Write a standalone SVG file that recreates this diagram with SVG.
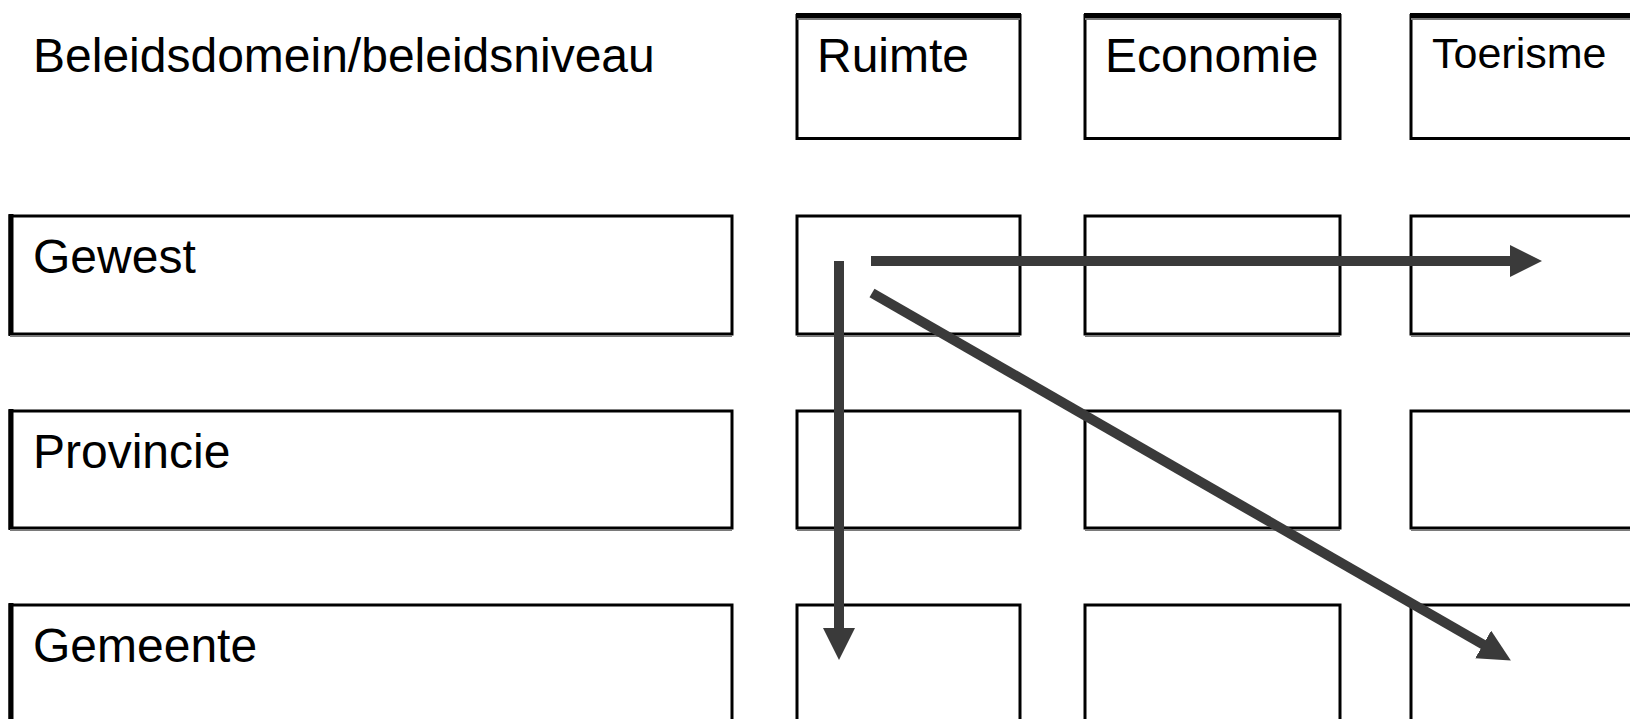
<svg xmlns="http://www.w3.org/2000/svg" width="1630" height="719" viewBox="0 0 1630 719">
<style>
.box{fill:#fff;stroke:#000;stroke-width:3}
.shade{fill:none;stroke:#7a7a7a;stroke-width:2}
.topedge{stroke:#000;stroke-width:5}
.lbl{font-family:"Liberation Sans",Arial,sans-serif;font-size:48px;fill:#000}
.conn{stroke:#3a3a3a;stroke-width:10;fill:none}
</style>
<defs>
<marker id="ah" viewBox="0 0 32 32" refX="1" refY="16" markerWidth="32" markerHeight="32" markerUnits="userSpaceOnUse" orient="auto">
<path d="M0,0 L32,16 L0,32 z" fill="#3a3a3a"/>
</marker>
</defs>
<rect width="1630" height="719" fill="#fff"/>

<g id="header-title"><text class="lbl" x="33" y="72">Beleidsdomein/beleidsniveau</text></g>

<g id="col-ruimte"><rect class="box" x="797" y="15.5" width="223" height="123"/><line class="topedge" x1="796" y1="15.5" x2="1021" y2="15.5"/><line class="shade" x1="797" y1="19" x2="1020" y2="19"/><text class="lbl" x="817" y="72">Ruimte</text></g>
<g id="col-economie"><rect class="box" x="1085" y="15.5" width="255" height="123"/><line class="topedge" x1="1084" y1="15.5" x2="1341" y2="15.5"/><line class="shade" x1="1085" y1="19" x2="1340" y2="19"/><text class="lbl" x="1105" y="72">Economie</text></g>
<g id="col-toerisme"><rect class="box" x="1411" y="15.5" width="300" height="123"/><line class="topedge" x1="1410" y1="15.5" x2="1711" y2="15.5"/><line class="shade" x1="1411" y1="19" x2="1711" y2="19"/><text class="lbl" x="1432" y="68" style="font-size:43px">Toerisme</text></g>

<g id="row-gewest"><rect class="box" x="10" y="216" width="722" height="118"/><line x1="11" y1="214" x2="11" y2="336" stroke="#000" stroke-width="5"/><line class="shade" x1="10" y1="336" x2="732" y2="336"/><text class="lbl" x="33" y="273">Gewest</text></g>
<g id="row-provincie"><rect class="box" x="10" y="411" width="722" height="117"/><line x1="11" y1="409" x2="11" y2="530" stroke="#000" stroke-width="5"/><line class="shade" x1="10" y1="530" x2="732" y2="530"/><text class="lbl" x="33" y="468">Provincie</text></g>
<g id="row-gemeente"><rect class="box" x="10" y="605" width="722" height="200"/><line x1="11" y1="603" x2="11" y2="719" stroke="#000" stroke-width="5"/><text class="lbl" x="33" y="662">Gemeente</text></g>

<g id="cell-gewest-ruimte"><rect class="box" x="797" y="216" width="223" height="118"/><line class="shade" x1="797" y1="336" x2="1020" y2="336"/></g>
<g id="cell-gewest-economie"><rect class="box" x="1085" y="216" width="255" height="118"/><line class="shade" x1="1085" y1="336" x2="1340" y2="336"/></g>
<g id="cell-gewest-toerisme"><rect class="box" x="1411" y="216" width="300" height="118"/><line class="shade" x1="1411" y1="336" x2="1711" y2="336"/></g>
<g id="cell-provincie-ruimte"><rect class="box" x="797" y="411" width="223" height="117"/><line class="shade" x1="797" y1="530" x2="1020" y2="530"/></g>
<g id="cell-provincie-economie"><rect class="box" x="1085" y="411" width="255" height="117"/><line class="shade" x1="1085" y1="530" x2="1340" y2="530"/></g>
<g id="cell-provincie-toerisme"><rect class="box" x="1411" y="411" width="300" height="117"/><line class="shade" x1="1411" y1="530" x2="1711" y2="530"/></g>
<g id="cell-gemeente-ruimte"><rect class="box" x="797" y="605" width="223" height="200"/></g>
<g id="cell-gemeente-economie"><rect class="box" x="1085" y="605" width="255" height="200"/></g>
<g id="cell-gemeente-toerisme"><rect class="box" x="1411" y="605" width="300" height="200"/></g>

<g id="connectors">
<line class="conn" x1="871" y1="261" x2="1511" y2="261" marker-end="url(#ah)"/>
<line class="conn" x1="839" y1="261" x2="839" y2="629" marker-end="url(#ah)"/>
<line class="conn" x1="872" y1="293" x2="1484" y2="645" marker-end="url(#ah)"/>
</g>
</svg>
